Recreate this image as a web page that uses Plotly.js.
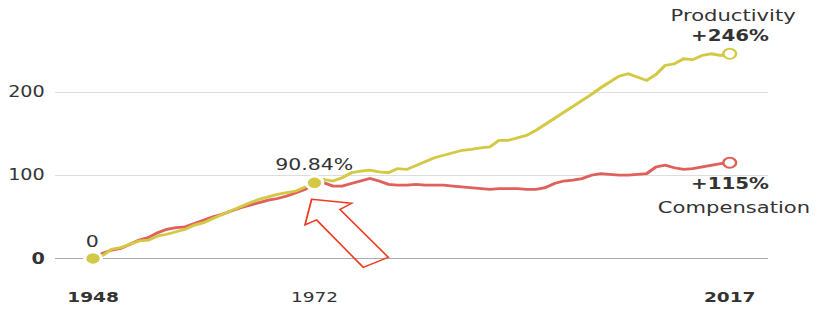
<!DOCTYPE html>
<html>
<head>
<meta charset="utf-8">
<script src="https://cdn.plot.ly/plotly-3.0.1.min.js"></script>
<style>
  html, body { margin: 0; padding: 0; background: #fff; overflow: hidden; }
  #chart { width: 640px; height: 313px; transform: scaleX(1.2797); transform-origin: 0 0; }
</style>
</head>
<body>
<div id="chart"></div>
<script>
// ---- data ----
const years = [];
for (let y = 1948; y <= 2017; y++) years.push(y);

const productivity = [
  0, 3, 11, 13, 17, 21, 22, 27, 29, 32,
  35, 40, 43, 48, 53, 58, 63, 67, 71, 74,
  77, 79, 81, 86, 90.84, 95, 93, 97, 103, 105,
  106, 104, 103, 108, 107, 112, 117, 121, 124, 127,
  130, 131, 133, 134, 142, 142, 145, 148, 154, 161,
  168, 176, 183, 189, 197, 205, 212, 219, 222, 218,
  214, 221, 232, 234, 240, 239, 244, 246, 244, 246
];

const compensation = [
  0, 6, 10, 12, 17, 22, 25, 31, 35, 37,
  38, 42, 46, 50, 53, 57, 61, 64, 67, 70,
  72, 75, 79, 83, 90.84, 91, 87, 87, 90, 93,
  96, 93, 89, 88, 88, 89, 88, 88, 88, 87,
  86, 85, 84, 83, 84, 84, 84, 83, 83, 85,
  90, 93, 94, 96, 100, 102, 101, 100, 100, 101,
  102, 110, 112, 109, 107, 108, 110, 112, 114, 115
];

const xTickVals = [1948, 1972, 2017];
const xTickText = ['<b>1948</b>', '1972', '<b>2017</b>'];
const yTickVals = [0, 100, 200];
const yTickText = ['<b>0</b>', '100', '200'];

const startLabel = '0';
const midLabel = '90.84%';
const prodName = 'Productivity';
const prodChange = '+246%';
const compName = 'Compensation';
const compChange = '+115%';

// arrow outline (annotation, in data units)
const arrowX = [1971.69, 1976.03, 1974.76, 1980.0, 1977.28, 1972.23, 1970.97];
const arrowY = [71.1, 66.3, 59.0, 1.3, -10.7, 46.2, 40.2];

// ---- styling ----
const YEL = '#d3c944';
const RED = '#df605c';
const TXT = '#333333';
const FONT = 'DejaVu Sans, sans-serif';
const Y0 = -32, Y1 = 265;

const iStart = years.indexOf(1948);
const iMid = years.indexOf(1972);
const iEnd = years.indexOf(2017);

const traces = [
  { x: years, y: compensation, type: 'scatter', mode: 'lines',
    line: { color: RED, width: 2.8 }, hoverinfo: 'skip' },
  { x: years, y: productivity, type: 'scatter', mode: 'lines',
    line: { color: YEL, width: 2.8 }, hoverinfo: 'skip' },
  { x: [years[iStart], years[iMid]], y: [productivity[iStart], productivity[iMid]],
    type: 'scatter', mode: 'markers',
    marker: { size: 13, color: YEL, line: { color: '#ffffff', width: 2.5 } }, hoverinfo: 'skip' },
  { x: [years[iEnd]], y: [productivity[iEnd]], type: 'scatter', mode: 'markers',
    marker: { size: 10, color: '#ffffff', line: { color: YEL, width: 2 } }, hoverinfo: 'skip' },
  { x: [years[iEnd]], y: [compensation[iEnd]], type: 'scatter', mode: 'markers',
    marker: { size: 10, color: '#ffffff', line: { color: RED, width: 2 } }, hoverinfo: 'skip' }
];

let arrowPath = 'M ' + arrowX[0] + ',' + arrowY[0];
for (let i = 1; i < arrowX.length; i++) arrowPath += ' L ' + arrowX[i] + ',' + arrowY[i];
arrowPath += ' Z';

const toPaper = v => (v - Y0) / (Y1 - Y0);
const ann = (x, y, text, size) => ({
  x: x, y: toPaper(y), xref: 'x', yref: 'paper', text: text, showarrow: false,
  xanchor: 'center', yanchor: 'middle',
  font: { family: FONT, size: size, color: TXT }
});

const layout = {
  width: 640, height: 313,
  margin: { l: 43, r: 40, t: 38, b: 28 },
  paper_bgcolor: '#ffffff', plot_bgcolor: '#ffffff',
  showlegend: false,
  font: { family: FONT, color: TXT },
  xaxis: {
    range: [1943.88, 2021.13],
    tickvals: xTickVals, ticktext: xTickText,
    showgrid: false, zeroline: false, showline: false, ticks: '',
    ticklabelstandoff: 2,
    tickfont: { family: FONT, size: 14.5, color: TXT }
  },
  yaxis: {
    range: [Y0, Y1],
    tickvals: yTickVals, ticktext: yTickText,
    showgrid: true, gridcolor: '#dddddd', gridwidth: 1,
    zeroline: true, zerolinecolor: '#aaaaaa', zerolinewidth: 1.5,
    showline: false, ticks: '',
    ticklabelstandoff: 7,
    tickfont: { family: FONT, size: 15, color: TXT }
  },
  shapes: [{
    type: 'path', path: arrowPath, xref: 'x', yref: 'y',
    line: { color: '#ef3b22', width: 1.4 }, fillcolor: 'rgba(255,255,255,0)', layer: 'above'
  }],
  annotations: [
    ann(1947.9, 20.9, startLabel, 16),
    ann(1971.94, 112.3, midLabel, 16),
    ann(2017.45, 292, prodName, 16.5),
    ann(2017.1, 267.4, '<b>' + prodChange + '</b>', 15.5),
    ann(2017.1, 89.5, '<b>' + compChange + '</b>', 15.5),
    ann(2017.45, 61.5, compName, 16.5)
  ]
};

Plotly.newPlot('chart', traces, layout, { staticPlot: true, displayModeBar: false });
</script>
</body>
</html>
